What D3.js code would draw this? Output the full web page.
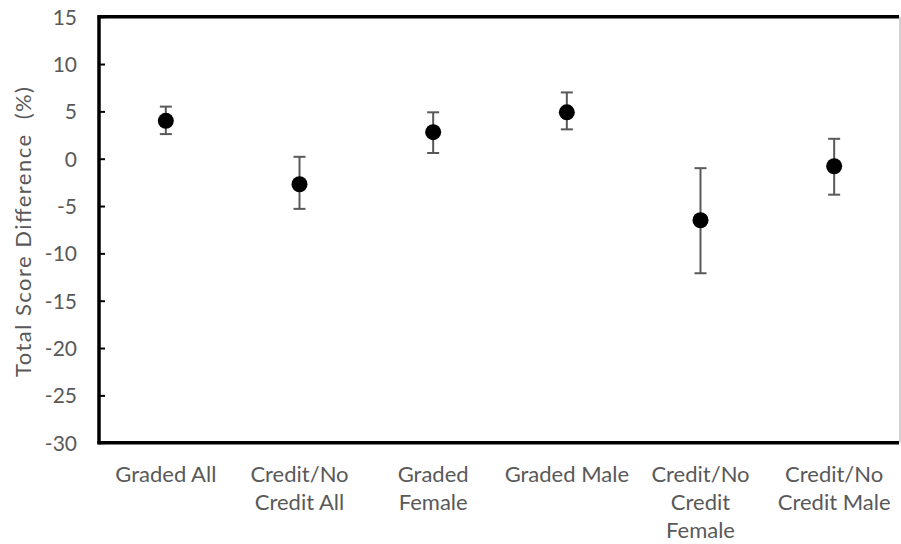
<!DOCTYPE html>
<html>
<head>
<meta charset="utf-8">
<script src="https://cdn.jsdelivr.net/npm/d3@7.9.0/dist/d3.min.js"></script>
<style>
  html, body { margin: 0; padding: 0; background: #fff; }
  svg text { font-family: Lato, "Open Sans", sans-serif; fill: #595959; }
</style>
</head>
<body>
<svg id="chart" width="901" height="544"></svg>
<script>
// categories and values
const groups = [
  ['Graded All'],
  ['Credit/No', 'Credit All'],
  ['Graded', 'Female'],
  ['Graded Male'],
  ['Credit/No', 'Credit', 'Female'],
  ['Credit/No', 'Credit Male'],
];
const means = [4.0, -2.7, 2.8, 4.9, -6.5, -0.8];
const upper = [5.5, 0.2, 4.9, 7.0, -1.0, 2.1];
const lower = [2.6, -5.3, 0.6, 3.1, -12.1, -3.8];
const yTicks = [15, 10, 5, 0, -5, -10, -15, -20, -25, -30];

const svg = d3.select('#chart');
const plotLeft = 99, plotRight = 901, plotTop = 16.7, plotBottom = 442.7;

const x = d3.scaleBand().domain(d3.range(groups.length)).range([plotLeft, plotRight]);
const y = d3.scaleLinear().domain([-30, 15]).range([plotBottom, plotTop]);

// thin right border
svg.append('line')
  .attr('x1', 900).attr('x2', 900).attr('y1', plotTop).attr('y2', plotBottom)
  .attr('stroke', '#a6a6a6').attr('stroke-width', 1);

// y axis with ticks pointing inwards
const yAxis = svg.append('g')
  .attr('transform', `translate(${plotLeft},0)`)
  .call(d3.axisLeft(y).tickValues(yTicks).tickFormat((d) => String(d))
    .tickSizeInner(-6).tickSizeOuter(0).tickPadding(22));
yAxis.select('.domain').remove();
yAxis.selectAll('.tick line').attr('stroke', '#000').attr('stroke-width', 2);
yAxis.selectAll('.tick text')
  .attr('font-size', 21)
  .attr('fill', '#595959')
  .attr('dy', '0.35em')
  .attr('font-family', 'Lato, sans-serif');

// thick frame lines
svg.append('line').attr('x1', plotLeft - 1.5).attr('x2', 899).attr('y1', plotTop).attr('y2', plotTop)
  .attr('stroke', '#000').attr('stroke-width', 3.5);
svg.append('line').attr('x1', plotLeft - 1.5).attr('x2', 899).attr('y1', plotBottom).attr('y2', plotBottom)
  .attr('stroke', '#000').attr('stroke-width', 3.5);
svg.append('line').attr('x1', plotLeft).attr('x2', plotLeft).attr('y1', plotTop - 1.5).attr('y2', plotBottom + 1.5)
  .attr('stroke', '#000').attr('stroke-width', 3.5);

// error bars
const cx = (i) => x(i) + x.bandwidth() / 2;
const bars = svg.append('g');
means.forEach((m, i) => {
  bars.append('line')
    .attr('x1', cx(i)).attr('x2', cx(i))
    .attr('y1', y(upper[i])).attr('y2', y(lower[i]))
    .attr('stroke', '#595959').attr('stroke-width', 2);
  [upper[i], lower[i]].forEach((v) => {
    bars.append('line')
      .attr('x1', cx(i) - 6).attr('x2', cx(i) + 6)
      .attr('y1', y(v)).attr('y2', y(v))
      .attr('stroke', '#595959').attr('stroke-width', 2);
  });
});

// points
svg.append('g').selectAll('circle')
  .data(means)
  .join('circle')
  .attr('cx', (d, i) => cx(i))
  .attr('cy', (d) => y(d))
  .attr('r', 8)
  .attr('fill', '#000');

// category labels
const labels = svg.append('g');
groups.forEach((lines, i) => {
  const t = labels.append('text')
    .attr('text-anchor', 'middle')
    .attr('font-size', 22);
  lines.forEach((s, j) => {
    t.append('tspan').attr('x', cx(i)).attr('y', 482 + j * 28).text(s);
  });
});

// y axis title
svg.append('text')
  .attr('transform', `translate(31,232) rotate(-90)`)
  .attr('text-anchor', 'middle')
  .attr('font-size', 22)
  .attr('xml:space', 'preserve')
  .attr('textLength', 290)
  .text('Total Score Difference  (%)');
</script>
</body>
</html>
